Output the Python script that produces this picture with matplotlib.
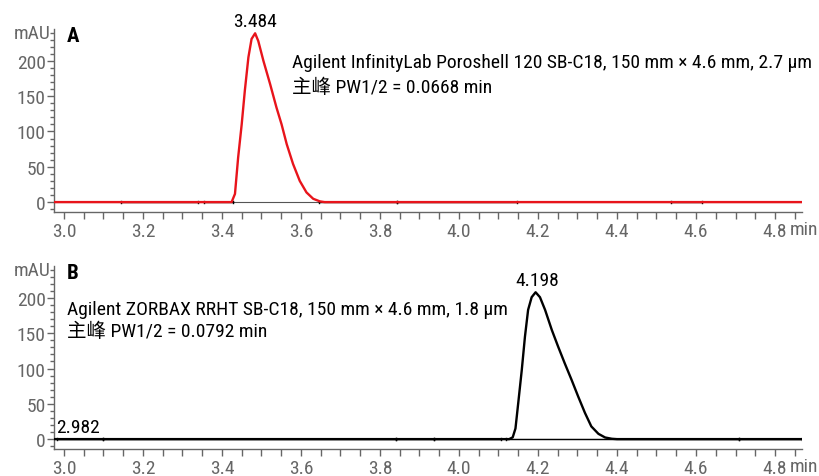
import numpy as np
import matplotlib
matplotlib.use('Agg')
import matplotlib.pyplot as plt
from matplotlib import font_manager
from matplotlib.ticker import MultipleLocator

# condensed latin face if the box has one, CJK face for 主峰
have = set(f.name for f in font_manager.fontManager.ttflist)
narrow = [n for n in ['Roboto Condensed', 'Barlow Semi Condensed', 'Asap Condensed',
                      'Archivo Narrow', 'Liberation Sans Narrow'] if n in have]
plt.rcParams['font.family'] = narrow[:1] + ['Noto Sans CJK SC', 'DejaVu Sans']

# panel A - Poroshell, red trace (min, mAU)
time_a = [2.975, 3.40, 3.4245, 3.433, 3.441, 3.450, 3.458, 3.467, 3.475, 3.484,
          3.492, 3.505, 3.522, 3.538, 3.551, 3.564, 3.580, 3.597, 3.614, 3.631,
          3.648, 3.66, 4.868]
sig_a = [0, 0, 0, 11.6, 63, 110, 158, 205, 231, 239,
         228, 200, 167, 134, 110, 82, 54, 30, 13.7, 4.7,
         1, 0, 0]

# panel B - ZORBAX, black trace
time_b = [2.975, 4.10, 4.127, 4.136, 4.143, 4.150, 4.159, 4.167, 4.175, 4.184, 4.194,
          4.205, 4.218, 4.235, 4.251, 4.268, 4.285, 4.302, 4.319, 4.335, 4.353,
          4.370, 4.387, 4.40, 4.868]
sig_b = [0, 0, 0, 2.5, 15, 51, 98, 145, 183, 201, 208,
         201, 183, 154.6, 131, 107, 84, 60, 37, 18, 7.5,
         2.3, 0.5, 0, 0]

# integration baseline segments
base_a = [(3.144, 3.339), (3.354, 3.428), (3.646, 3.843), (3.843, 4.147), (4.537, 4.615)]
base_b = [(2.982, 3.10), (3.10, 3.84), (3.84, 3.937), (3.937, 4.107), (4.12, 4.71), (4.71, 4.868)]

peak_a = (3.484, 239, '3.484')
peak_b = (4.198, 208, '4.198')

label_a = ['Agilent InfinityLab Poroshell 120 SB-C18, 150 mm × 4.6 mm, 2.7 µm',
           '主峰 PW1/2 = 0.0668 min']
label_b = ['Agilent ZORBAX RRHT SB-C18, 150 mm × 4.6 mm, 1.8 µm',
           '主峰 PW1/2 = 0.0792 min']

xticks = [3.0, 3.2, 3.4, 3.6, 3.8, 4.0, 4.2, 4.4, 4.6, 4.8]

gray = '#666666'
fs = 14
fig = plt.figure(figsize=(8.2, 4.77), dpi=100)
ax_a = fig.add_axes([0.0659, 0.5535, 0.912, 0.3835])
ax_b = fig.add_axes([0.0659, 0.0566, 0.912, 0.3834])


def style(ax):
    ax.set_xlim(2.975, 4.868)
    ax.set_ylim(-14, 245)
    for s in ['top', 'right']:
        ax.spines[s].set_visible(False)
    for s in ['left', 'bottom']:
        ax.spines[s].set_color(gray)
        ax.spines[s].set_linewidth(1.0)
    ax.xaxis.set_minor_locator(MultipleLocator(0.05))
    ax.yaxis.set_major_locator(MultipleLocator(50))
    ax.yaxis.set_minor_locator(MultipleLocator(10))
    ax.set_xticks(xticks)
    ax.set_xticklabels(['%.1f' % v for v in xticks])
    ax.tick_params(axis='both', which='both', colors=gray, labelcolor=gray, labelsize=fs, width=1.0)
    ax.tick_params(axis='x', which='major', length=5, pad=2)
    ax.tick_params(axis='x', which='minor', length=5)
    ax.tick_params(axis='y', which='major', length=5, pad=1)
    ax.tick_params(axis='y', which='minor', length=3)
    ax.text(-0.005, 240, 'mAU', transform=ax.get_yaxis_transform(), ha='right', va='center',
            fontsize=fs, color=gray)
    ax.annotate('min', xy=(4.837, 0), xycoords=('data', 'axes fraction'), xytext=(0, -5.6),
                textcoords='offset points', ha='left', va='top', fontsize=fs, color=gray)


def baseline(ax, segs):
    for x0, x1 in segs:
        ax.plot([x0, x1], [0, 0], color='black', lw=1.0, zorder=2)
        ax.plot([x0, x0], [-1.5, 1.5], color='black', lw=1.0, zorder=2)
        ax.plot([x1, x1], [-1.5, 1.5], color='black', lw=1.0, zorder=2)


for ax in (ax_a, ax_b):
    style(ax)
    ax.axhline(0, color='#555555', lw=0.8, zorder=1)

baseline(ax_a, base_a)
ax_a.plot(time_a, sig_a, color='#e8141b', lw=1.7, zorder=3)
baseline(ax_b, base_b)
ax_b.plot(time_b, sig_b, color='black', lw=1.7, zorder=3)

ax_a.text(peak_a[0], peak_a[1] + 5, peak_a[2], ha='center', va='bottom', fontsize=fs)
ax_b.text(peak_b[0], peak_b[1] + 5, peak_b[2], ha='center', va='bottom', fontsize=fs)
ax_b.text(2.98, 4, '2.982', ha='left', va='bottom', fontsize=fs)

ax_a.text(3.006, 236, 'A', ha='left', va='center', fontsize=15, fontweight='bold')
ax_b.text(3.006, 236, 'B', ha='left', va='center', fontsize=15, fontweight='bold')

ax_a.text(3.578, 198, label_a[0], ha='left', va='center', fontsize=fs)
ax_a.text(3.578, 163, label_a[1], ha='left', va='center', fontsize=fs)
ax_b.text(3.008, 184, label_b[0], ha='left', va='center', fontsize=fs)
ax_b.text(3.008, 153, label_b[1], ha='left', va='center', fontsize=fs)

fig.savefig('out.png', dpi=100)
